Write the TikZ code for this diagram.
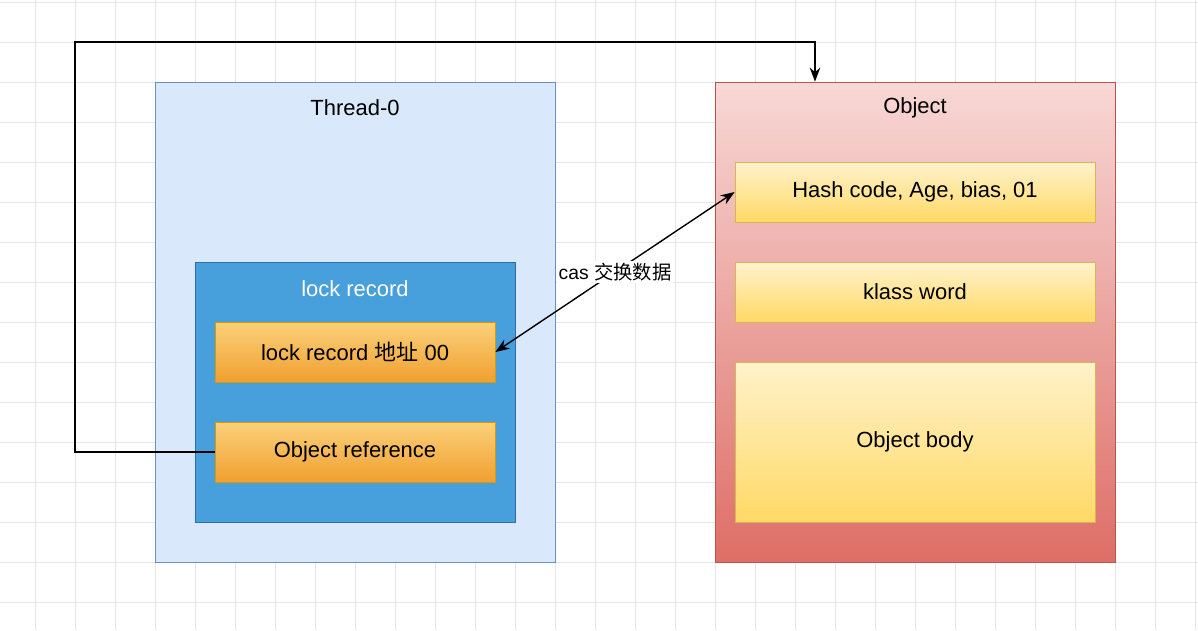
\documentclass[tikz,border=0pt]{standalone}
\usepackage{fontspec}
\setmainfont{Liberation Sans}
\newfontfamily\cjk{Noto Sans CJK SC}
\usetikzlibrary{arrows.meta}
\definecolor{threadFill}{HTML}{DAE8FC}
\definecolor{threadLine}{HTML}{6C8EBF}
\definecolor{lockFill}{HTML}{479FDB}
\definecolor{lockLine}{HTML}{2A6FA8}
\definecolor{orangeTop}{HTML}{FBD07A}
\definecolor{orangeBot}{HTML}{F0A030}
\definecolor{orangeLine}{HTML}{D79B00}
\definecolor{objTop}{HTML}{F8D8D6}
\definecolor{objBot}{HTML}{DE6E66}
\definecolor{objLine}{HTML}{B85450}
\definecolor{yellowTop}{HTML}{FFF2CC}
\definecolor{yellowBot}{HTML}{FFD966}
\definecolor{yellowLine}{HTML}{D6B656}
\definecolor{gridGray}{HTML}{E6E6E6}

\tikzset{
  box/.style={draw, rectangle, inner sep=0pt, font=\fontsize{12.5}{15}\selectfont},
  field/.style={box, draw=orangeLine, top color=orangeTop, bottom color=orangeBot,
    minimum width=280*0.02cm, minimum height=60*0.02cm},
  slot/.style={box, draw=yellowLine, top color=yellowTop, bottom color=yellowBot,
    minimum width=360*0.02cm},
  link/.style={-{Stealth[length=8pt,width=6pt]}, line width=0.8pt}
}

\begin{document}
\begin{tikzpicture}[x=0.02cm, y=-0.02cm]
  \useasboundingbox (0,0) rectangle (1198,630);
  % grid
  \foreach \x in {35,75,...,1195}
    \draw[gridGray, line width=0.4pt] (\x,0) -- (\x,630);
  \foreach \y in {2,42,...,630}
    \draw[gridGray, line width=0.4pt] (0,\y) -- (1198,\y);

  % thread side
  \node[box, draw=threadLine, fill=threadFill, minimum width=400*0.02cm, minimum height=480*0.02cm]
    (thread) at (355,322) {};
  \node[font=\fontsize{12.5}{15}\selectfont] (threadTitle) at (355,108) {Thread-0};
  \node[box, draw=lockLine, fill=lockFill, minimum width=320*0.02cm, minimum height=260*0.02cm]
    (lock) at (355,392) {};
  \node[text=white, font=\fontsize{12.5}{15}\selectfont] (lockTitle) at (355,289) {lock record};
  \node[field] (addr) at (355,352) {lock record {\cjk 地址} 00};
  \node[field] (ref) at (355,452) {Object reference};

  % object side
  \node[box, draw=objLine, top color=objTop, bottom color=objBot, minimum width=400*0.02cm, minimum height=480*0.02cm]
    (obj) at (915,322) {};
  \node[font=\fontsize{12.5}{15}\selectfont] (objTitle) at (915,108) {Object};
  \node[slot, minimum height=60*0.02cm] (hash) at (915,192) {Hash code, Age, bias, 01};
  \node[slot, minimum height=60*0.02cm] (klass) at (915,292) {klass word};
  \node[slot, minimum height=160*0.02cm] (body) at (915,442) {Object body};

  % connectors
  \coordinate (c1) at (75,452);
  \coordinate (c2) at (75,42);
  \coordinate (c3) at (815,42);
  \draw[link] (ref.west) -- (c1) -- (c2) -- (c3) -- (obj.north -| c3);
  \draw[link, {Stealth[length=8pt,width=6pt]}-{Stealth[length=8pt,width=6pt]}] (addr.east) -- (hash.west)
    node[midway, fill=white, inner sep=1pt, font=\fontsize{11}{13}\selectfont] {cas {\cjk 交换数据}};
\end{tikzpicture}
\end{document}
